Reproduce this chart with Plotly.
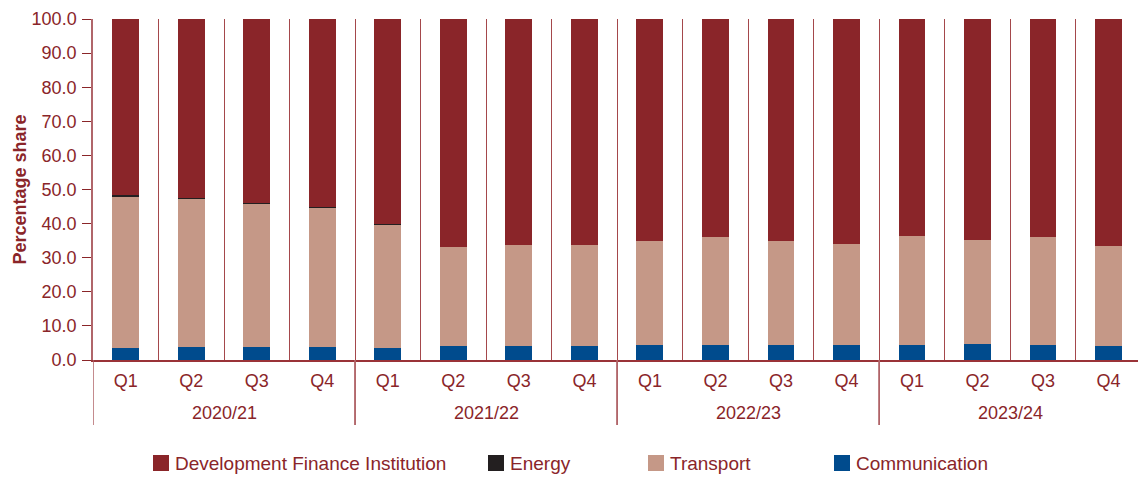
import plotly.graph_objects as go

# Quarterly shares by sector, financial years 2020/21 - 2023/24
years = ["2020/21"] * 4 + ["2021/22"] * 4 + ["2022/23"] * 4 + ["2023/24"] * 4
quarters = ["Q1", "Q2", "Q3", "Q4"] * 4

communication = [3.5, 3.9, 3.9, 3.9, 3.5, 4.1, 4.1, 4.1, 4.4, 4.4, 4.4, 4.4, 4.4, 4.7, 4.4, 4.1]
transport = [44.4, 43.4, 42.0, 40.8, 36.2, 29.0, 29.6, 29.6, 30.5, 31.7, 30.5, 29.6, 32.0, 30.5, 31.7, 29.3]
energy = [0.5, 0.3, 0.2, 0.2, 0.2, 0.0, 0.0, 0.0, 0.0, 0.0, 0.0, 0.0, 0.0, 0.0, 0.0, 0.0]
dfi = [51.6, 52.4, 53.9, 55.1, 60.1, 66.9, 66.3, 66.3, 65.1, 63.9, 65.1, 66.0, 63.6, 64.8, 63.9, 66.6]

y_ticks = [0, 10, 20, 30, 40, 50, 60, 70, 80, 90, 100]

TEXT = "#8A2529"
FONT = "Liberation Sans, Arial, sans-serif"
W, H = 1138, 482
ML, MR, MT, MB = 93, 0, 19, 122

# one slot per quarter along the x axis
x_pos = list(range(len(quarters)))

series = [
    ("Communication", communication, "#004B8D"),
    ("Transport", transport, "#C59887"),
    ("Energy", energy, "#231F20"),
    ("Development Finance Institution", dfi, "#8A2529"),
]

fig = go.Figure()
for name, vals, color in series:
    fig.add_trace(go.Bar(
        x=x_pos, y=vals, name=name,
        customdata=years,
        hovertemplate="%{customdata} " + "%{text}: %{y:.1f}<extra>" + name + "</extra>",
        text=quarters, textposition="none",
        marker=dict(color=color, line=dict(width=0)),
        width=0.41, showlegend=False,
    ))

fig.update_layout(
    width=W, height=H,
    margin=dict(l=ML, r=MR, t=MT, b=MB, autoexpand=False),
    barmode="stack",
    plot_bgcolor="white", paper_bgcolor="white",
    font=dict(family=FONT, size=18, color=TEXT),
)

fig.update_xaxes(
    range=[-0.5, len(quarters) - 0.55],
    tickmode="array", tickvals=x_pos, ticktext=quarters,
    ticks="", showgrid=False, zeroline=False,
    ticklabelstandoff=4,
    minor=dict(tick0=0.5, dtick=1, showgrid=True, gridcolor="#A4474B",
               gridwidth=1, ticks=""),
    showline=True, linecolor="#9A3338", linewidth=1.5,
    tickfont=dict(family=FONT, size=18, color=TEXT),
)

fig.update_yaxes(
    range=[0, 100],
    tickvals=y_ticks, tickformat=".1f",
    ticks="outside", ticklen=9, tickcolor=TEXT, tickwidth=1,
    ticklabelstandoff=2,
    showgrid=False, zeroline=False,
    showline=True, linecolor="#B0656A", linewidth=1.5,
    tickfont=dict(family=FONT, size=18, color=TEXT),
    title=dict(text="<b>Percentage share</b>", standoff=0,
               font=dict(family=FONT, size=18, color=TEXT)),
)

plot_w = W - ML - MR
plot_h = H - MT - MB


def px_x(px):
    return (px - ML) / plot_w


def px_y(py):
    return (H - MB - py) / plot_h


# Financial-year group labels and the dividers between groups
groups = []
for i, yr in enumerate(years):
    if not groups or groups[-1][0] != yr:
        groups.append([yr, i, i])
    else:
        groups[-1][2] = i

for yr, first, last in groups:
    fig.add_annotation(xref="x", yref="paper",
                       x=(x_pos[first] + x_pos[last]) / 2, y=px_y(413),
                       xanchor="center", yanchor="middle",
                       text=yr, showarrow=False,
                       font=dict(family=FONT, size=18, color=TEXT))
    for edge in (x_pos[first] - 0.5, x_pos[last] + 0.5):
        fig.add_shape(type="line", xref="x", yref="paper",
                      x0=edge, x1=edge, y0=0, y1=px_y(425),
                      line=dict(color="#B06468", width=1.5))

# Legend drawn as swatches + labels along the bottom
legend_items = [
    ("Development Finance Institution", "#8A2529", 153),
    ("Energy", "#231F20", 488),
    ("Transport", "#C59887", 648),
    ("Communication", "#004B8D", 834),
]
sw = 16
top = 455
for label, color, left in legend_items:
    fig.add_shape(type="rect", xref="paper", yref="paper",
                  x0=px_x(left), x1=px_x(left + sw),
                  y0=px_y(top + sw), y1=px_y(top),
                  fillcolor=color, line=dict(width=0))
    fig.add_annotation(xref="paper", yref="paper",
                       x=px_x(left + sw + 4), y=px_y(top + sw / 2),
                       xanchor="left", yanchor="middle",
                       text=label, showarrow=False,
                       font=dict(family=FONT, size=19, color=TEXT))

fig.write_html("out.html")
